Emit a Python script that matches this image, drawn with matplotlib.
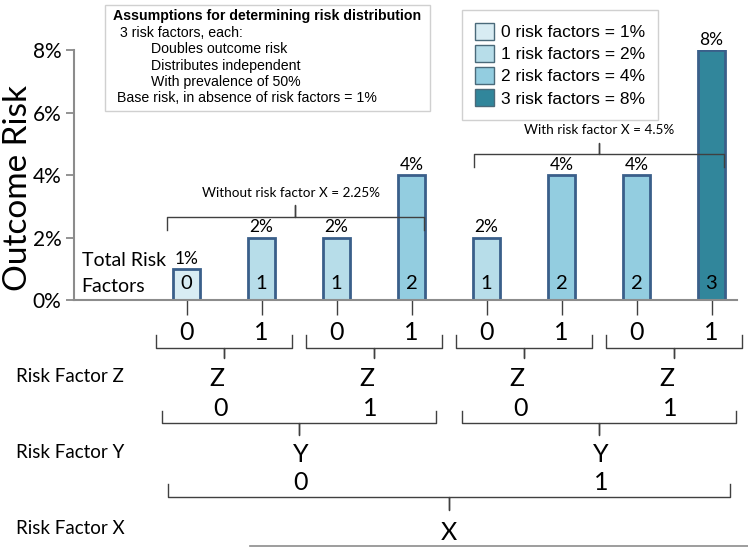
import matplotlib.pyplot as plt
import matplotlib.transforms as mtransforms
from matplotlib.patches import Patch, Rectangle
from matplotlib.lines import Line2D

# data
risk = [1, 2, 2, 4, 2, 4, 4, 8]            # outcome risk in %
n_factors = [0, 1, 1, 2, 1, 2, 2, 3]       # total risk factors per bar
z_vals = [0, 1, 0, 1, 0, 1, 0, 1]
y_vals = [0, 1, 0, 1]
x_vals = [0, 1]
colors = ['#d8ecf3', '#b7dde9', '#93cde0', '#31869b']
legend_labels = ['0 risk factors = 1%', '1 risk factors = 2%',
                 '2 risk factors = 4%', '3 risk factors = 8%']
yticks = [0, 2, 4, 6, 8]
box_lines = ['3 risk factors, each:', '        Doubles outcome risk',
             '        Distributes independent', '        With prevalence of 50%',
             'Base risk, in absence of risk factors = 1%']

W, H = 748, 547
CAL = ['Lato', 'DejaVu Sans']
ARI = ['Liberation Sans', 'DejaVu Sans']
LINE = '#404040'

fig = plt.figure(figsize=(W / 100, H / 100), dpi=100)
ax = fig.add_axes([74 / W, (H - 300) / H, (737 - 74) / W, 250 / H])

def fy(py):
    return 1 - py / H

pos = list(range(len(risk)))
ax.bar(pos, risk, width=0.35, color=[colors[n] for n in n_factors],
       edgecolor='#3a5f8a', linewidth=2, zorder=2)
ax.set_xlim(-1.5, 7.34)
ax.set_ylim(0, 8)
ax.set_yticks(yticks)
ax.set_yticklabels([f'{v}%' for v in yticks], family=CAL, fontsize=15)
ax.set_xticks(pos)
ax.set_xticklabels([])
ax.tick_params(axis='x', length=11, color=LINE, width=1)
ax.tick_params(axis='y', length=6, color='#808080', width=1.2, pad=3)
for s in ['top', 'right']:
    ax.spines[s].set_visible(False)
for s in ['left', 'bottom']:
    ax.spines[s].set_color('#8c8c8c')
    ax.spines[s].set_linewidth(1.5)
fig.text(18 / W, fy(188), 'Outcome Risk', rotation=90, ha='center', va='center',
         family=CAL, fontsize=24)

bt = mtransforms.blended_transform_factory(ax.transData, fig.transFigure)

for p, r, n in zip(pos, risk, n_factors):
    ax.annotate(f'{r}%', (p, r), xytext=(0, 1.5), textcoords='offset points',
                ha='center', va='bottom', family=CAL, fontsize=12.5)
    ax.text(p, fy(284), str(n), transform=bt, ha='center', va='center',
            family=CAL, fontsize=14.5, zorder=3)

ax.text(-1.4, fy(261), 'Total Risk', transform=bt, ha='left', va='center',
        family=CAL, fontsize=14)
ax.text(-1.4, fy(286), 'Factors', transform=bt, ha='left', va='center',
        family=CAL, fontsize=14)


def bracket(x0, x1, py, hook, tick):
    # hook > 0: ends go down (in pixels), tick goes up; hook < 0 reversed
    xc = (x0 + x1) / 2
    xs = [x0, x0, xc, xc, xc, x1, x1]
    ys = [py + hook, py, py, py - tick, py, py, py + hook]
    ax.plot(xs, [fy(v) for v in ys], transform=bt, color=LINE, lw=1,
            clip_on=False, zorder=4)
    return xc


# brackets above bars
xc = bracket(-0.26, 3.16, 217, 13, 12)
ax.text(xc - 0.05, fy(193), 'Without risk factor X = 2.25%', transform=bt,
        ha='center', va='center', family=CAL, fontsize=9.7)
xc = bracket(3.83, 7.17, 154, 13, 11)
ax.text(xc, fy(130), 'With risk factor X = 4.5%', transform=bt,
        ha='center', va='center', family=CAL, fontsize=9.7)

# hierarchy below the axis
for p, z in zip(pos, z_vals):
    ax.text(p, fy(333), str(z), transform=bt, ha='center', va='center',
            family=CAL, fontsize=18)
for i, yv in enumerate(y_vals):
    c = bracket(2 * i - 0.41, 2 * i + 1.41, 348, -13, -10)
    ax.text(c - 0.1, fy(378), 'Z', transform=bt, ha='center', va='center',
            family=CAL, fontsize=18)
    ax.text(c - 0.05, fy(409), str(yv), transform=bt, ha='center', va='center',
            family=CAL, fontsize=18)
for i, xv in enumerate(x_vals):
    c = bracket(4 * i - 0.33, 4 * i + 3.32, 423, -12, -12)
    ax.text(c + 0.03, fy(454), 'Y', transform=bt, ha='center', va='center',
            family=CAL, fontsize=18)
    ax.text(c + 0.03, fy(483), str(xv), transform=bt, ha='center', va='center',
            family=CAL, fontsize=18)
c = bracket(-0.25, 7.24, 497, -13, -13)
ax.text(c, fy(533), 'X', transform=bt, ha='center', va='center',
        family=CAL, fontsize=18)

for lab, py in [('Risk Factor Z', 377), ('Risk Factor Y', 453), ('Risk Factor X', 529)]:
    fig.text(16 / W, fy(py), lab, ha='left', va='center', family=CAL, fontsize=13.5)
fig.add_artist(Line2D([250 / W, 1], [fy(546), fy(546)], color='#8c8c8c', lw=1.2))

# assumptions box
fig.add_artist(Rectangle((105 / W, fy(111)), (430 - 105) / W, (111 - 5) / H,
                         transform=fig.transFigure, facecolor='white',
                         edgecolor='#d0d0d0', lw=1))
fig.text(113 / W, fy(16), 'Assumptions for determining risk distribution',
         ha='left', va='center', family=ARI, fontsize=10.2, weight='bold')
for i, t in enumerate(box_lines):
    x0 = 120 if i < 4 else 117
    fig.text(x0 / W, fy(33 + 16.3 * i), t, ha='left', va='center',
             family=ARI, fontsize=10.2)

# legend
handles = [Patch(facecolor=c, edgecolor='#4a6a7a', lw=1) for c in colors]
ax.legend(handles, legend_labels, loc='upper left',
          bbox_to_anchor=(462 / W, fy(10)), bbox_transform=fig.transFigure,
          prop={'family': ARI, 'size': 12.5}, frameon=True, fancybox=False,
          edgecolor='#d0d0d0', framealpha=1, borderaxespad=0,
          handlelength=1.1, handleheight=1.1, handletextpad=0.4,
          labelspacing=0.28, borderpad=0.75)

plt.savefig('out.png', dpi=100)
